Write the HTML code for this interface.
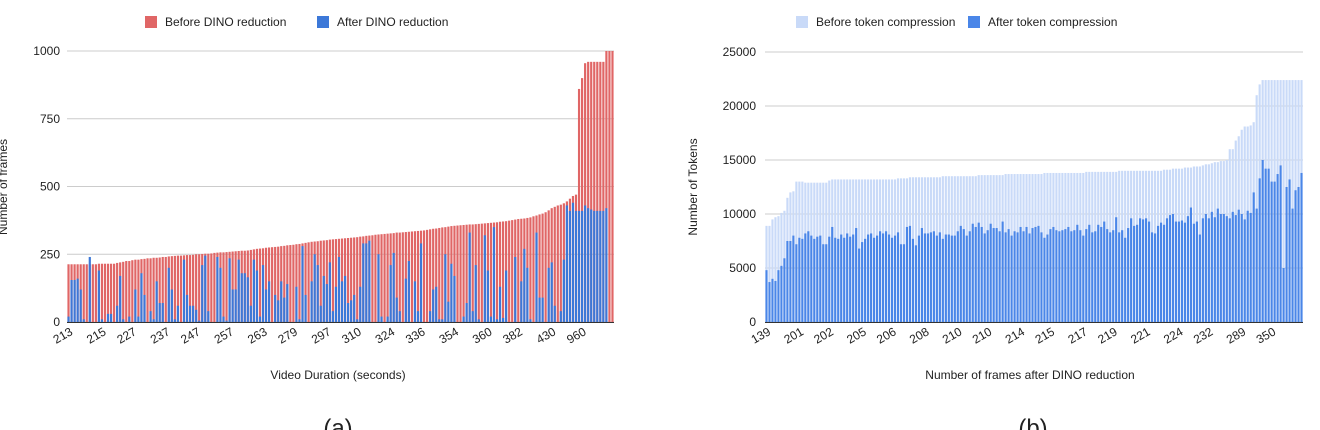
<!DOCTYPE html>
<html><head><meta charset="utf-8"><style>
html,body{margin:0;padding:0;background:#fff;width:1320px;height:430px;overflow:hidden}
svg{display:block;font-family:"Liberation Sans",Arial,sans-serif}
</style></head><body>
<svg id="chart" width="1320" height="430" viewBox="0 0 1320 430" xmlns="http://www.w3.org/2000/svg">
  <g>
    <rect x="145" y="16" width="12" height="12" fill="#e06666"/>
    <text x="165" y="26" font-size="12" fill="#222">Before DINO reduction</text>
    <rect x="317" y="16" width="12" height="12" fill="#3c78d8"/>
    <text x="337" y="26" font-size="12" fill="#222">After DINO reduction</text>
  </g>
  <g>
    <rect x="796" y="16" width="12" height="12" fill="#c9daf8"/>
    <text x="816" y="26" font-size="12" fill="#222">Before token compression</text>
    <rect x="968" y="16" width="12" height="12" fill="#4a86e8"/>
    <text x="988" y="26" font-size="12" fill="#222">After token compression</text>
  </g>
  <text x="-2" y="187" font-size="12" fill="#222" transform="rotate(-90 -2 187)" text-anchor="middle" dominant-baseline="hanging">Number of frames</text>
  <text x="338" y="379" font-size="12" fill="#222" text-anchor="middle">Video Duration (seconds)</text>
  <text x="338" y="436" font-size="24" fill="#222" text-anchor="middle">(a)</text>
  <text x="693" y="187" font-size="12" fill="#222" transform="rotate(-90 693 187)" text-anchor="middle" dominant-baseline="central">Number of Tokens</text>
  <text x="1030" y="379" font-size="12" fill="#222" text-anchor="middle">Number of frames after DINO reduction</text>
  <text x="1033" y="436" font-size="24" fill="#222" text-anchor="middle">(b)</text>
</svg>
<script>
// ---- Chart (a) data ----
const beforeDino = [213,213,213,213,213,213,213,213,213,213,215,215,215,215,215,215,218,220,222,225,225,
228,230,230,232,233,235,235,237,237,238,240,240,242,243,
244,245,245,246,247,247,248,250,250,251,252,252,253,255,
256,257,257,258,259,260,261,262,263,263,264,
266,268,270,271,272,274,275,276,277,278,
280,281,283,284,285,287,288,
290,292,294,296,297,298,300,301,302,
304,305,306,307,308,309,310,311,312,313,
315,316,318,319,320,322,323,324,325,
326,327,328,330,330,331,332,333,334,335,336,337,338,340,
342,344,345,347,349,350,352,354,355,356,
357,358,359,360,360,361,362,
363,364,365,366,367,368,370,371,372,374,
376,378,380,381,382,384,
386,390,393,397,400,
405,412,420,425,430,
433,438,445,455,
465,470,860,
900,955,960,960,960,960,960,960,
1000,1000,1000];
const afterDino = [20,155,155,160,120,10,0,240,0,0,190,10,0,30,30,0,60,170,10,0,20,
0,120,20,180,100,0,40,10,150,70,70,0,200,120,
10,60,0,230,100,60,60,45,5,210,245,40,0,0,
240,200,20,5,235,120,120,230,180,180,165,
60,230,190,20,210,120,150,0,100,80,
150,90,140,0,0,130,10,
280,100,0,150,250,210,60,170,140,
220,40,130,240,150,170,70,80,100,10,
130,290,290,300,0,0,250,20,0,
20,210,255,90,40,0,160,225,0,150,40,290,0,0,
40,120,130,10,10,250,75,215,170,0,
0,20,70,330,40,210,10,0,320,190,
20,350,10,130,15,190,0,0,240,0,
150,270,200,10,0,330,
90,90,0,200,220,
60,0,40,230,
430,410,440,
410,410,410,430,420,415,410,410,
410,410,420];
const labelsA = ["213","215","227","237","247","257","263","279","297","310","324","336","354","360","382","430","960"];

// ---- Chart (b) data ----
const beforeTok = [8900,8900,9500,9700,9800,10100,10300,11500,12000,12100,13000,13000,
13000,12900,12900,12900,12900,12900,12900,12900,12900,13100,13200,13200,13200,13200,13200,13200,13200,13200,
13200,13200,13200,13200,13200,13200,13200,13200,13200,13200,13200,13200,13200,13200,13300,13300,13300,13300,
13400,13400,13400,13400,13400,13400,13400,13400,13400,13400,13400,13500,13500,13500,13500,13500,13500,13500,
13500,13500,13500,13500,13500,13600,13600,13600,13600,13600,13600,13600,13600,13600,13700,13700,13700,13700,
13700,13700,13700,13700,13700,13700,13700,13700,13700,13800,13800,13800,13800,13800,13800,13800,13800,13800,
13800,13800,13800,13800,13800,13900,13900,13900,13900,13900,13900,13900,13900,13900,13900,13900,14000,14000,
14000,14000,14000,14000,14000,14000,14000,14000,14000,14000,14000,14000,14000,14100,14100,14100,14200,
14200,14200,14200,14300,14300,14300,14400,14400,14400,14500,14600,14600,14700,14800,14800,14900,14900,15000,
16000,16000,16800,17200,17800,18100,18100,18200,18500,21000,22000,
22400,22400,22400,22400,22400,22400,22400,22400,22400,22400,22400,22400,22400,22400];
const afterTok = [4800,3700,4000,3800,4800,5200,5900,7500,7500,8000,7200,7800,
7700,8200,8400,8000,7700,7900,8000,7200,7200,7900,8800,7800,7700,8100,7800,8200,7900,8100,
8700,6800,7400,7700,8100,8200,7800,8000,8400,8200,8400,8100,7800,8000,8300,7200,7200,8800,
8900,7700,7100,8000,8700,8200,8200,8300,8400,8000,8300,7700,8100,8100,8000,8000,8400,8900,
8600,8000,8400,9100,8800,9200,8800,8200,8500,9100,8700,8700,8400,9300,8300,8600,8000,8400,
8300,8800,8400,8800,8200,8700,8800,8900,8300,7800,8100,8600,8800,8500,8400,8500,8600,8800,
8400,8500,9000,8500,8000,8600,9000,8300,8400,9000,8800,9300,8600,8300,8500,9700,8300,8500,
7800,8700,9600,8900,9000,9600,9500,9600,9300,8300,8200,8900,9200,9000,9600,9900,10000,9300,
9300,9400,9200,9800,10600,9100,9300,8100,9600,10000,9600,10200,9700,10500,10000,10000,
9800,9600,10200,9900,10400,10000,9500,10300,10100,
12000,10500,13300,15000,14200,14200,13000,13000,13700,14500,5000,12500,13200,10500,12200,12500,13800];
const labelsB = ["139","201","202","205","206","208","210","210","214","215","217","219","221","224","232","289","350"];

const svg = document.getElementById('chart');
const NS = 'http://www.w3.org/2000/svg';
function mk(tag, attrs, parent){const e=document.createElementNS(NS,tag);for(const k in attrs)e.setAttribute(k,attrs[k]);(parent||svg).appendChild(e);return e;}

function drawChart(cfg){
  const {x0,x1,y0,yTop,max,step,tot,aft,cTot,cAft,labels,tickFmt,labX,id} = cfg;
  const g = mk('g',{});
  
  
  const yScale = v => y0 - (v/max)*(y0-yTop);
  for(let v=0; v<=max; v+=step){
    const y=yScale(v);
    const gl = mk('line',{x1:x0,x2:x1,y1:y,y2:y,stroke:'#cccccc','stroke-width':1},g);
    
    
    const t = mk('text',{x:labX,y:y+4,'font-size':12,fill:'#222','text-anchor':'end'},g);
    t.textContent = tickFmt(v);
    
    
  }
  const n = Math.max(tot.length, aft.length), pitch=(x1-x0)/n, bw=pitch*0.72;
  const xScale = i => x0 + i*pitch + (pitch-bw)/2;
  for(let i=0;i<n;i++){
    const x=xScale(i);
    if(tot[i]!==undefined){
      const r1 = mk('rect',{x:x,y:yScale(tot[i]),width:bw,height:y0-yScale(tot[i]),fill:cTot},g);
      
      
    }
    if(aft[i]!==undefined){
      const r2 = mk('rect',{x:x,y:yScale(aft[i]),width:bw,height:y0-yScale(aft[i]),fill:cAft},g);
      
      
    }
  }
  const ax = mk('line',{x1:x0,x2:x1,y1:y0+0.5,y2:y0+0.5,stroke:'#333','stroke-width':1},g);
  
  
  const every = n/labels.length;
  labels.forEach((lb,k)=>{
    const cx = xScale(Math.round(k*every)) + bw/2 + 5;
    const t = mk('text',{x:cx,y:y0+12,'font-size':12,fill:'#222','text-anchor':'end',transform:`rotate(-30 ${cx} ${y0+12})`},g);
    t.textContent = lb;
    
    
  });
}
drawChart({id:'chart-a',x0:67,x1:614,y0:322,yTop:51,max:1000,step:250,tot:beforeDino,aft:afterDino,cTot:'#e06666',cAft:'#3c78d8',labels:labelsA,tickFmt:v=>String(v),labX:60});
drawChart({id:'chart-b',x0:765,x1:1303,y0:322,yTop:52,max:25000,step:5000,tot:beforeTok,aft:afterTok,cTot:'#c9daf8',cAft:'#4a86e8',labels:labelsB,tickFmt:v=>String(v),labX:756});
</script>
</body></html>
